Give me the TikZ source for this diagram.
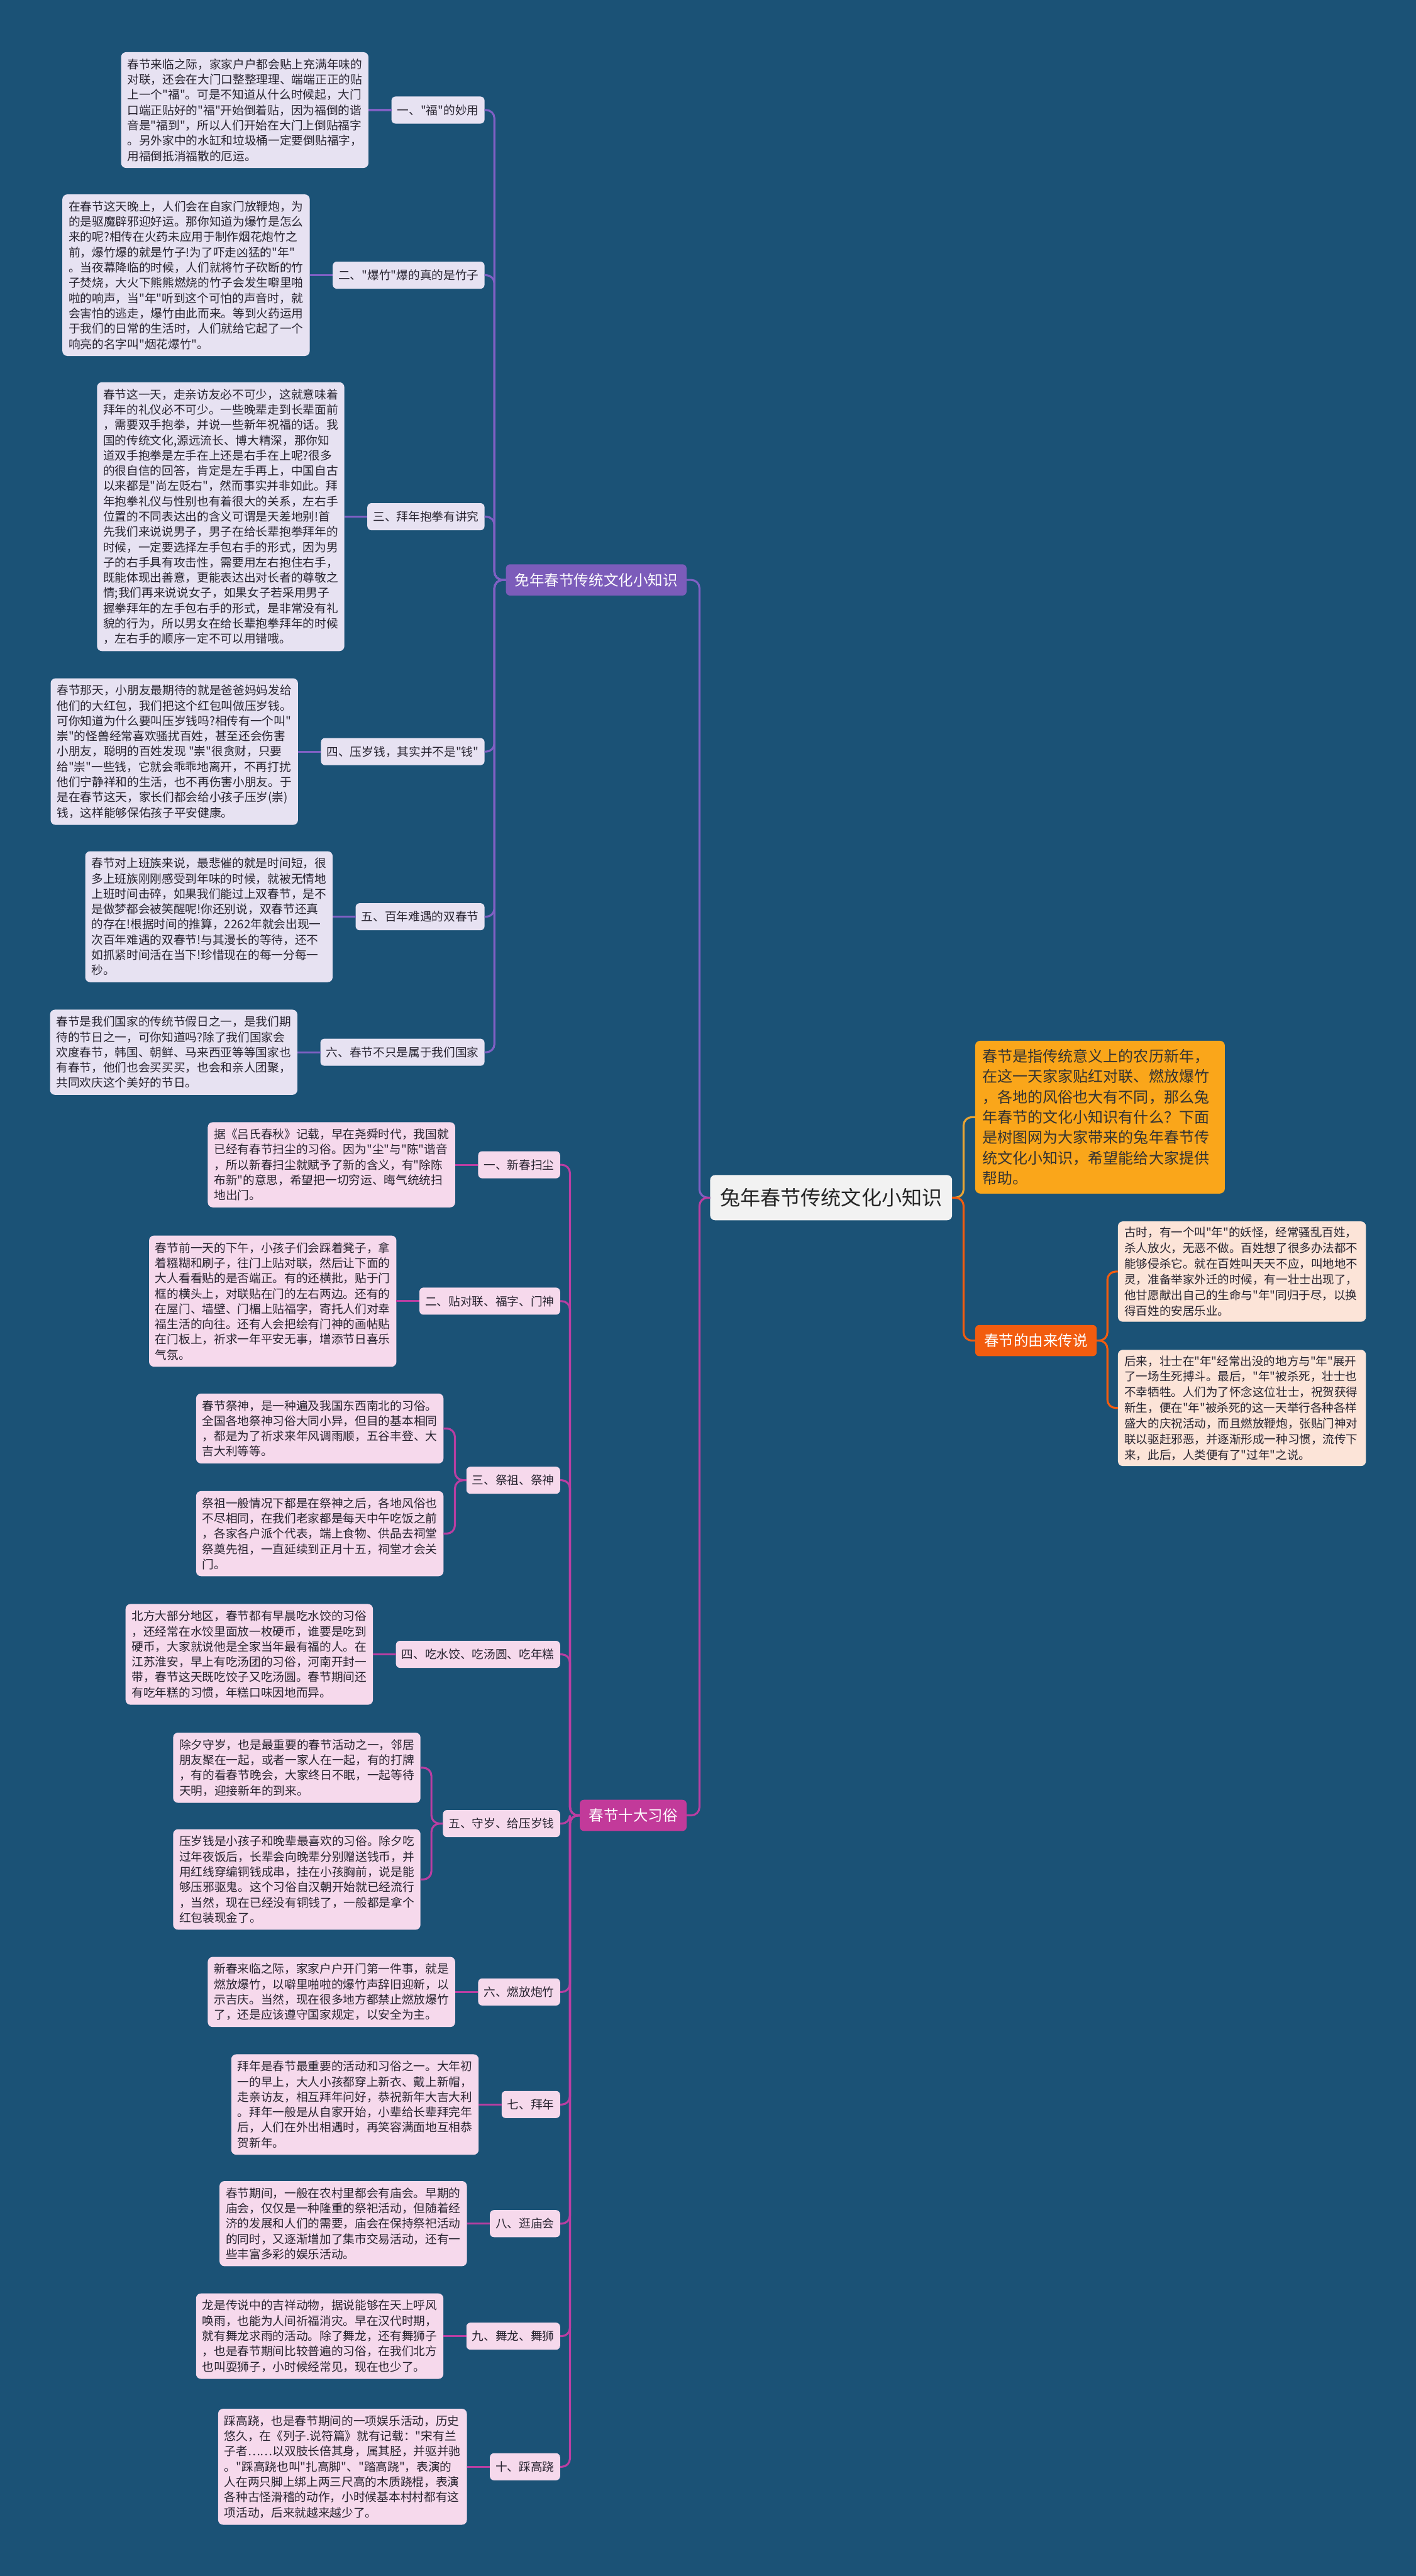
\documentclass[tikz,border=0pt]{standalone}
\usepackage{fontspec}
\setmainfont{Noto Sans CJK SC}[Ligatures=TeXOff]
\usepackage{xcolor}
\usepackage{tikz}
\usetikzlibrary{positioning}
\definecolor{bgblue}{RGB}{27,82,118}
\definecolor{purpmain}{RGB}{124,92,186}
\definecolor{purpline}{RGB}{128,96,196}
\definecolor{lavender}{RGB}{231,226,242}
\definecolor{magmain}{RGB}{194,58,154}
\definecolor{magline}{RGB}{186,62,162}
\definecolor{pinkbox}{RGB}{246,217,236}
\definecolor{orgmain}{RGB}{250,166,26}
\definecolor{orgline}{RGB}{232,164,52}
\definecolor{redmain}{RGB}{242,92,15}
\definecolor{peach}{RGB}{252,228,216}
\definecolor{rootfill}{RGB}{242,242,242}
\definecolor{inktext}{RGB}{40,36,48}

\begin{document}
\begin{tikzpicture}[x=1pt, y=-1pt,
    every node/.style={inner sep=0pt, outer sep=0pt},
    root/.style={rectangle, rounded corners=3pt, fill=rootfill, text=black!85, inner xsep=6pt, minimum height=27.5pt, font=\fontsize{12.3}{14}\selectfont},
    cat/.style={rectangle, rounded corners=2.5pt, text=white, inner xsep=5.5pt, minimum height=19pt, font=\fontsize{9}{11}\selectfont},
    item/.style={rectangle, rounded corners=2.5pt, text=inktext, inner xsep=3.5pt, minimum height=16.5pt, font=\fontsize{7.15}{9}\selectfont},
    note/.style={rectangle, rounded corners=3pt, text=inktext, align=left, inner xsep=3.8pt, inner ysep=4pt, font=\fontsize{7.15}{9.3}\selectfont},
    intro/.style={note, fill=orgmain, text=black!80, text width=143pt, inner xsep=4.5pt, inner ysep=5pt, font=\fontsize{9.2}{12.4}\selectfont},
    tale/.style={note, fill=peach, text width=143pt, inner xsep=4pt, inner ysep=3.5pt, font=\fontsize{7.1}{9.5}\selectfont},
    link/.style={line width=1.2pt, rounded corners=5pt}
]
\fill[bgblue] (0,0) rectangle (862,1568);
\useasboundingbox (0,0) rectangle (862,1568);

\node[root] (root) at (506,729) {兔年春节传统文化小知识};

\node[intro, anchor=west] (intro) at (593.7,680) {春节是指传统意义上的农历新年，\\在这一天家家贴红对联、燃放爆竹\\，各地的风俗也大有不同，那么兔\\年春节的文化小知识有什么？下面\\是树图网为大家带来的兔年春节传\\统文化小知识，希望能给大家提供\\帮助。};
\node[cat, fill=redmain, anchor=west] (legend) at (593.7,816) {春节的由来传说};
\node[tale, anchor=west] (talea) at (680.6,774) {古时，有一个叫"年"的妖怪，经常骚乱百姓，\\杀人放火，无恶不做。百姓想了很多办法都不\\能够侵杀它。就在百姓叫天天不应，叫地地不\\灵，准备举家外迁的时候，有一壮士出现了，\\他甘愿献出自己的生命与"年"同归于尽，以换\\得百姓的安居乐业。};
\node[tale, anchor=west] (taleb) at (680.6,857) {后来，壮士在"年"经常出没的地方与"年"展开\\了一场生死搏斗。最后，"年"被杀死，壮士也\\不幸牺牲。人们为了怀念这位壮士，祝贺获得\\新生，便在"年"被杀死的这一天举行各种各样\\盛大的庆祝活动，而且燃放鞭炮，张贴门神对\\联以驱赶邪恶，并逐渐形成一种习惯，流传下\\来，此后，人类便有了"过年"之说。};

\node[cat, fill=purpmain, anchor=east] (lore) at (418,353) {免年春节传统文化小知识};

\node[item, fill=lavender, anchor=east] (lore1) at (295,67) {一、"福"的妙用};
\node[note, fill=lavender, left=14pt of lore1] (lore1t) {春节来临之际，家家户户都会贴上充满年味的\\对联，还会在大门口整整理理、端端正正的贴\\上一个"福"。可是不知道从什么时候起，大门\\口端正贴好的"福"开始倒着贴，因为福倒的谐\\音是"福到"，所以人们开始在大门上倒贴福字\\。另外家中的水缸和垃圾桶一定要倒贴福字，\\用福倒抵消福散的厄运。};
\node[item, fill=lavender, anchor=east] (lore2) at (295,167.5) {二、"爆竹"爆的真的是竹子};
\node[note, fill=lavender, left=14pt of lore2] (lore2t) {在春节这天晚上，人们会在自家门放鞭炮，为\\的是驱魔辟邪迎好运。那你知道为爆竹是怎么\\来的呢?相传在火药未应用于制作烟花炮竹之\\前，爆竹爆的就是竹子!为了吓走凶猛的"年"\\。当夜幕降临的时候，人们就将竹子砍断的竹\\子焚烧，大火下熊熊燃烧的竹子会发生噼里啪\\啦的响声，当"年"听到这个可怕的声音时，就\\会害怕的逃走，爆竹由此而来。等到火药运用\\于我们的日常的生活时，人们就给它起了一个\\响亮的名字叫"烟花爆竹"。};
\node[item, fill=lavender, anchor=east] (lore3) at (295,314.5) {三、拜年抱拳有讲究};
\node[note, fill=lavender, left=14pt of lore3] (lore3t) {春节这一天，走亲访友必不可少，这就意味着\\拜年的礼仪必不可少。一些晚辈走到长辈面前\\，需要双手抱拳，并说一些新年祝福的话。我\\国的传统文化,源远流长、博大精深，那你知\\道双手抱拳是左手在上还是右手在上呢?很多\\的很自信的回答，肯定是左手再上，中国自古\\以来都是"尚左贬右"，然而事实并非如此。拜\\年抱拳礼仪与性别也有着很大的关系，左右手\\位置的不同表达出的含义可谓是天差地别!首\\先我们来说说男子，男子在给长辈抱拳拜年的\\时候，一定要选择左手包右手的形式，因为男\\子的右手具有攻击性，需要用左右抱住右手，\\既能体现出善意，更能表达出对长者的尊敬之\\情;我们再来说说女子，如果女子若采用男子\\握拳拜年的左手包右手的形式，是非常没有礼\\貌的行为，所以男女在给长辈抱拳拜年的时候\\，左右手的顺序一定不可以用错哦。};
\node[item, fill=lavender, anchor=east] (lore4) at (295,457.5) {四、压岁钱，其实并不是"钱"};
\node[note, fill=lavender, left=14pt of lore4] (lore4t) {春节那天，小朋友最期待的就是爸爸妈妈发给\\他们的大红包，我们把这个红包叫做压岁钱。\\可你知道为什么要叫压岁钱吗?相传有一个叫"\\崇"的怪兽经常喜欢骚扰百姓，甚至还会伤害\\小朋友，聪明的百姓发现 "崇"很贪财，只要\\给"崇"一些钱，它就会乖乖地离开，不再打扰\\他们宁静祥和的生活，也不再伤害小朋友。于\\是在春节这天，家长们都会给小孩子压岁(崇)\\钱，这样能够保佑孩子平安健康。};
\node[item, fill=lavender, anchor=east] (lore5) at (295,558) {五、百年难遇的双春节};
\node[note, fill=lavender, left=14pt of lore5] (lore5t) {春节对上班族来说，最悲催的就是时间短，很\\多上班族刚刚感受到年味的时候，就被无情地\\上班时间击碎，如果我们能过上双春节，是不\\是做梦都会被笑醒呢!你还别说，双春节还真\\的存在!根据时间的推算，2262年就会出现一\\次百年难遇的双春节!与其漫长的等待，还不\\如抓紧时间活在当下!珍惜现在的每一分每一\\秒。};
\node[item, fill=lavender, anchor=east] (lore6) at (295,640.5) {六、春节不只是属于我们国家};
\node[note, fill=lavender, left=14pt of lore6] (lore6t) {春节是我们国家的传统节假日之一，是我们期\\待的节日之一，可你知道吗?除了我们国家会\\欢度春节，韩国、朝鲜、马来西亚等等国家也\\有春节，他们也会买买买，也会和亲人团聚，\\共同欢庆这个美好的节日。};

\node[cat, fill=magmain, anchor=east] (custom) at (418,1105) {春节十大习俗};

\node[item, fill=pinkbox, anchor=east] (cus1) at (341,709) {一、新春扫尘};
\node[note, fill=pinkbox, left=14pt of cus1] (cus1t) {据《吕氏春秋》记载，早在尧舜时代，我国就\\已经有春节扫尘的习俗。因为"尘"与"陈"谐音\\，所以新春扫尘就赋予了新的含义，有"除陈\\布新"的意思，希望把一切穷运、晦气统统扫\\地出门。};
\node[item, fill=pinkbox, anchor=east] (cus2) at (341,792) {二、贴对联、福字、门神};
\node[note, fill=pinkbox, left=14pt of cus2] (cus2t) {春节前一天的下午，小孩子们会踩着凳子，拿\\着糨糊和刷子，往门上贴对联，然后让下面的\\大人看看贴的是否端正。有的还横批，贴于门\\框的横头上，对联贴在门的左右两边。还有的\\在屋门、墙壁、门楣上贴福字，寄托人们对幸\\福生活的向往。还有人会把绘有门神的画帖贴\\在门板上，祈求一年平安无事，增添节日喜乐\\气氛。};
\node[item, fill=pinkbox, anchor=east] (cus3) at (341,901) {三、祭祖、祭神};
\node[note, fill=pinkbox, anchor=east] (cus3a) at (270,869.5) {春节祭神，是一种遍及我国东西南北的习俗。\\全国各地祭神习俗大同小异，但目的基本相同\\，都是为了祈求来年风调雨顺，五谷丰登、大\\吉大利等等。};
\node[note, fill=pinkbox, anchor=east] (cus3b) at (270,933.5) {祭祖一般情况下都是在祭神之后，各地风俗也\\不尽相同，在我们老家都是每天中午吃饭之前\\，各家各户派个代表，端上食物、供品去祠堂\\祭奠先祖，一直延续到正月十五，祠堂才会关\\门。};
\node[item, fill=pinkbox, anchor=east] (cus4) at (341,1007) {四、吃水饺、吃汤圆、吃年糕};
\node[note, fill=pinkbox, left=14pt of cus4] (cus4t) {北方大部分地区，春节都有早晨吃水饺的习俗\\，还经常在水饺里面放一枚硬币，谁要是吃到\\硬币，大家就说他是全家当年最有福的人。在\\江苏淮安，早上有吃汤团的习俗，河南开封一\\带，春节这天既吃饺子又吃汤圆。春节期间还\\有吃年糕的习惯，年糕口味因地而异。};
\node[item, fill=pinkbox, anchor=east] (cus5) at (341,1110) {五、守岁、给压岁钱};
\node[note, fill=pinkbox, anchor=east] (cus5a) at (256,1076) {除夕守岁，也是最重要的春节活动之一，邻居\\朋友聚在一起，或者一家人在一起，有的打牌\\，有的看春节晚会，大家终日不眠，一起等待\\天明，迎接新年的到来。};
\node[note, fill=pinkbox, anchor=east] (cus5b) at (256,1144) {压岁钱是小孩子和晚辈最喜欢的习俗。除夕吃\\过年夜饭后，长辈会向晚辈分别赠送钱币，并\\用红线穿编铜钱成串，挂在小孩胸前，说是能\\够压邪驱鬼。这个习俗自汉朝开始就已经流行\\，当然，现在已经没有铜钱了，一般都是拿个\\红包装现金了。};
\node[item, fill=pinkbox, anchor=east] (cus6) at (341,1212.5) {六、燃放炮竹};
\node[note, fill=pinkbox, left=14pt of cus6] (cus6t) {新春来临之际，家家户户开门第一件事，就是\\燃放爆竹，以噼里啪啦的爆竹声辞旧迎新，以\\示吉庆。当然，现在很多地方都禁止燃放爆竹\\了，还是应该遵守国家规定，以安全为主。};
\node[item, fill=pinkbox, anchor=east] (cus7) at (341,1281) {七、拜年};
\node[note, fill=pinkbox, left=14pt of cus7] (cus7t) {拜年是春节最重要的活动和习俗之一。大年初\\一的早上，大人小孩都穿上新衣、戴上新帽，\\走亲访友，相互拜年问好，恭祝新年大吉大利\\。拜年一般是从自家开始，小辈给长辈拜完年\\后，人们在外出相遇时，再笑容满面地互相恭\\贺新年。};
\node[item, fill=pinkbox, anchor=east] (cus8) at (341,1353.5) {八、逛庙会};
\node[note, fill=pinkbox, left=14pt of cus8] (cus8t) {春节期间，一般在农村里都会有庙会。早期的\\庙会，仅仅是一种隆重的祭祀活动，但随着经\\济的发展和人们的需要，庙会在保持祭祀活动\\的同时，又逐渐增加了集市交易活动，还有一\\些丰富多彩的娱乐活动。};
\node[item, fill=pinkbox, anchor=east] (cus9) at (341,1422) {九、舞龙、舞狮};
\node[note, fill=pinkbox, left=14pt of cus9] (cus9t) {龙是传说中的吉祥动物，据说能够在天上呼风\\唤雨，也能为人间祈福消灾。早在汉代时期，\\就有舞龙求雨的活动。除了舞龙，还有舞狮子\\，也是春节期间比较普遍的习俗，在我们北方\\也叫耍狮子，小时候经常见，现在也少了。};
\node[item, fill=pinkbox, anchor=east] (cus10) at (341,1501.5) {十、踩高跷};
\node[note, fill=pinkbox, left=14pt of cus10] (cus10t) {踩高跷，也是春节期间的一项娱乐活动，历史\\悠久，在《列子.说符篇》就有记载："宋有兰\\子者……以双肢长倍其身，属其胫，并驱并驰\\。"踩高跷也叫"扎高脚"、"踏高跷"，表演的\\人在两只脚上绑上两三尺高的木质跷棍，表演\\各种古怪滑稽的动作，小时候基本村村都有这\\项活动，后来就越来越少了。};

\draw[link, orgline] (root.east) -- ++(7,0) |- (intro.west);
\draw[link, redmain] (root.east) -- ++(7,0) |- (legend.west);
\draw[link, redmain] (legend.east) -- ++(6.5,0) |- (talea.west);
\draw[link, redmain] (legend.east) -- ++(6.5,0) |- (taleb.west);
\draw[link, purpline] (root.west) -- ++(-6.5,0) |- (lore.east);
\draw[link, magline] (root.west) -- ++(-6.5,0) |- (custom.east);

\draw[link, purpline] (lore.west) -- ++(-7,0) |- (lore1.east);
\draw[link, purpline] (lore.west) -- ++(-7,0) |- (lore2.east);
\draw[link, purpline] (lore.west) -- ++(-7,0) |- (lore3.east);
\draw[link, purpline] (lore.west) -- ++(-7,0) |- (lore4.east);
\draw[link, purpline] (lore.west) -- ++(-7,0) |- (lore5.east);
\draw[link, purpline] (lore.west) -- ++(-7,0) |- (lore6.east);
\draw[link, purpline] (lore1.west) -- (lore1t.east);
\draw[link, purpline] (lore2.west) -- (lore2t.east);
\draw[link, purpline] (lore3.west) -- (lore3t.east);
\draw[link, purpline] (lore4.west) -- (lore4t.east);
\draw[link, purpline] (lore5.west) -- (lore5t.east);
\draw[link, purpline] (lore6.west) -- (lore6t.east);

\draw[link, magline] (custom.west) -- ++(-6,0) |- (cus1.east);
\draw[link, magline] (custom.west) -- ++(-6,0) |- (cus2.east);
\draw[link, magline] (custom.west) -- ++(-6,0) |- (cus3.east);
\draw[link, magline] (custom.west) -- ++(-6,0) |- (cus4.east);
\draw[link, magline] (custom.west) -- ++(-6,0) |- (cus5.east);
\draw[link, magline] (custom.west) -- ++(-6,0) |- (cus6.east);
\draw[link, magline] (custom.west) -- ++(-6,0) |- (cus7.east);
\draw[link, magline] (custom.west) -- ++(-6,0) |- (cus8.east);
\draw[link, magline] (custom.west) -- ++(-6,0) |- (cus9.east);
\draw[link, magline] (custom.west) -- ++(-6,0) |- (cus10.east);
\draw[link, magline] (cus1.west) -- (cus1t.east);
\draw[link, magline] (cus2.west) -- (cus2t.east);
\draw[link, magline] (cus3.west) -- ++(-7,0) |- (cus3a.east);
\draw[link, magline] (cus3.west) -- ++(-7,0) |- (cus3b.east);
\draw[link, magline] (cus4.west) -- (cus4t.east);
\draw[link, magline] (cus5.west) -- ++(-7,0) |- (cus5a.east);
\draw[link, magline] (cus5.west) -- ++(-7,0) |- (cus5b.east);
\draw[link, magline] (cus6.west) -- (cus6t.east);
\draw[link, magline] (cus7.west) -- (cus7t.east);
\draw[link, magline] (cus8.west) -- (cus8t.east);
\draw[link, magline] (cus9.west) -- (cus9t.east);
\draw[link, magline] (cus10.west) -- (cus10t.east);
\end{tikzpicture}
\end{document}
